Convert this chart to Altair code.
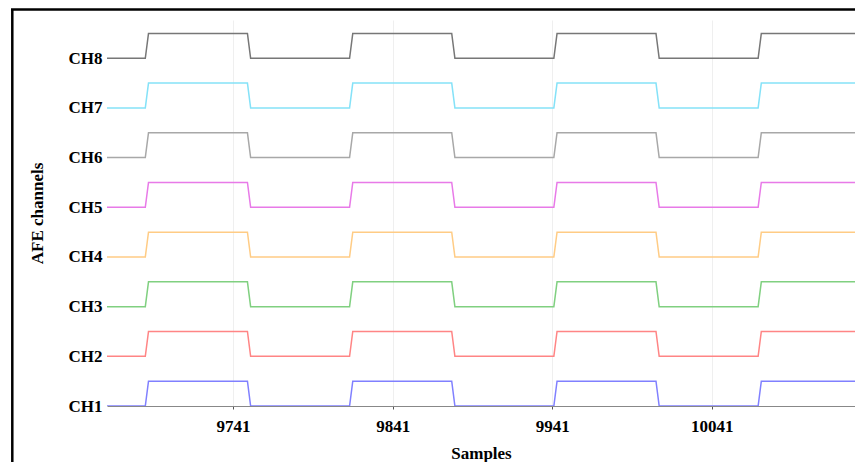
import altair as alt
import pandas as pd

# ---- data ----
channels = ["CH1", "CH2", "CH3", "CH4", "CH5", "CH6", "CH7", "CH8"]
channel_colors = ["#8080ff", "#ff8585", "#80d080", "#ffcc85", "#e87ae8",
                  "#a8a8a8", "#85e2f8", "#777777"]
start_sample = 9662
end_sample = 10130.7
rise_samples = [9687, 9815, 9943, 10071]
fall_samples = [9751, 9879, 10007, 10135]
ramp = 1  # half-width of each edge, in samples
tick_values = [9741, 9841, 9941, 10041]
pulse_height = 0.5

rows = []
for ci, ch in enumerate(channels):
    base = ci + 1
    pts = [(start_sample - 2, 0)]
    edges = sorted([(r, 1) for r in rise_samples] + [(f, 0) for f in fall_samples])
    state = 0
    for s, new in edges:
        pts.append((s - ramp, state))
        pts.append((s + ramp, new))
        state = new
    pts.append((end_sample + 10, state))
    for k, (s, st) in enumerate(pts):
        rows.append({"sample": s, "level": base + pulse_height * st,
                     "channel": ch, "order": k})
df = pd.DataFrame(rows)

FONT = "Liberation Serif"

lines = alt.Chart(df).mark_line(strokeWidth=1.5, clip=True, interpolate="linear").encode(
    x=alt.X("sample:Q",
            scale=alt.Scale(domain=[start_sample, end_sample], nice=False, zero=False),
            axis=alt.Axis(values=tick_values, format="d", title="Samples",
                          grid=True, gridColor="#efefef", domainColor="#888888",
                          tickColor="#555555", tickSize=3, labelPadding=9,
                          titlePadding=11)),
    y=alt.Y("level:Q",
            scale=alt.Scale(domain=[1, 8.77], nice=False, zero=False),
            axis=alt.Axis(values=list(range(1, 9)), labelExpr="'CH' + datum.value",
                          title="AFE channels", grid=False, domain=False, ticks=False,
                          labelPadding=5, titleX=-70, titleBaseline="middle")),
    color=alt.Color("channel:N", scale=alt.Scale(domain=channels, range=channel_colors),
                    legend=None),
    order="order:Q",
)

frame_src = alt.Data(values=[{"a": 1}])
left_border = alt.Chart(frame_src).mark_rule(color="black", strokeWidth=2.5).encode(
    x=alt.value(-94.7), y=alt.value(-10.5), y2=alt.value(442))
top_border = alt.Chart(frame_src).mark_rule(color="black", strokeWidth=2.5).encode(
    x=alt.value(-96), x2=alt.value(748), y=alt.value(-10.5))

chart = alt.layer(lines, left_border, top_border).properties(
    width=748, height=386,
    autosize=alt.AutoSizeParams(type="none"),
    padding={"left": 99, "top": 12, "right": 0, "bottom": 56},
).configure_view(stroke=None).configure_axis(
    labelFont=FONT, titleFont=FONT, labelFontSize=17, titleFontSize=17,
    labelFontWeight="bold", titleFontWeight="bold",
    labelColor="black", titleColor="black",
)

chart.save("out.html", embed_options={"renderer": "svg", "actions": False})
